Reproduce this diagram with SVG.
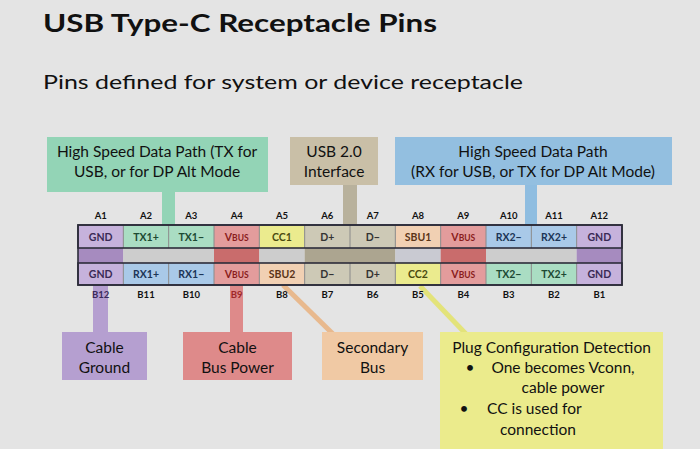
<svg xmlns="http://www.w3.org/2000/svg" width="700" height="449" viewBox="0 0 700 449">
<style>
text{font-family:Lato,"Liberation Sans",sans-serif;fill:#111}
.title{font-size:24px;font-weight:bold}
.sub{font-size:18.5px}
.box{font-size:15.5px;text-anchor:middle}
.pl{font-size:9.5px;font-weight:bold;text-anchor:middle}
.cell{font-size:10.5px;font-weight:bold;text-anchor:middle}
.sep{stroke:#8a8a8a;stroke-width:1}
.row{fill:none;stroke:#2c2c3a;stroke-width:1.6}
</style>
<rect width="700" height="449" fill="#e4e4e4"/>
<text class="title" x="43" y="32" textLength="394" lengthAdjust="spacingAndGlyphs">USB Type-C Receptacle Pins</text>
<text class="sub" x="43" y="89" textLength="480" lengthAdjust="spacingAndGlyphs">Pins defined for system or device receptacle</text>

<g id="connectors">
  <rect x="162" y="192" width="13" height="33" fill="#93d4b6"/>
  <rect x="343" y="185" width="14" height="40" fill="#b8b19c"/>
  <rect x="525" y="185" width="12" height="40" fill="#8fbde0"/>
  <rect x="93" y="285" width="15" height="47" fill="#b59fd0"/>
  <rect x="230" y="285" width="13" height="47" fill="#de8a8a"/>
  <line x1="283" y1="285" x2="333" y2="334" stroke="#e8b98e" stroke-width="5"/>
  <line x1="420" y1="286" x2="466" y2="334" stroke="#e3e37a" stroke-width="5"/>
</g>

<g id="box-hs-tx">
  <rect x="47" y="137" width="221" height="55" fill="#93d4b6"/>
  <text class="box" x="157" y="157">High Speed Data Path (TX for</text>
  <text class="box" x="157" y="177">USB, or for DP Alt Mode</text>
</g>
<g id="box-usb2">
  <rect x="290" y="137" width="88" height="48" fill="#c9bfa7"/>
  <text class="box" x="334" y="157">USB 2.0</text>
  <text class="box" x="334" y="177">Interface</text>
</g>
<g id="box-hs-rx">
  <rect x="395" y="137" width="277" height="48" fill="#93bfe0"/>
  <text class="box" x="533" y="157">High Speed Data Path</text>
  <text class="box" x="533" y="177">(RX for USB, or TX for DP Alt Mode)</text>
</g>

<g id="pin-table">
  <rect x="78" y="248" width="45.33" height="15" fill="#a68bbf"/>
  <rect x="123.33" y="248" width="90.67" height="15" fill="#cdcdcd"/>
  <rect x="214" y="248" width="45.33" height="15" fill="#c96c6c"/>
  <rect x="259.33" y="248" width="45.33" height="15" fill="#cdcdcd"/>
  <rect x="304.67" y="248" width="90.67" height="15" fill="#aca590"/>
  <rect x="395.33" y="248" width="45.33" height="15" fill="#c9cad2"/>
  <rect x="440.67" y="248" width="45.33" height="15" fill="#c96c6c"/>
  <rect x="486" y="248" width="90.67" height="15" fill="#cdcdcd"/>
  <rect x="576.67" y="248" width="45.33" height="15" fill="#a68bbf"/>
  <rect x="78" y="225" width="45.33" height="23" fill="#c6b2dc"/>
  <rect x="123.33" y="225" width="45.33" height="23" fill="#aaddc3"/>
  <rect x="168.67" y="225" width="45.33" height="23" fill="#aaddc3"/>
  <rect x="214" y="225" width="45.33" height="23" fill="#e39c9c"/>
  <rect x="259.33" y="225" width="45.33" height="23" fill="#ebeb8e"/>
  <rect x="304.67" y="225" width="45.33" height="23" fill="#cdc9b6"/>
  <rect x="350" y="225" width="45.33" height="23" fill="#cdc9b6"/>
  <rect x="395.33" y="225" width="45.33" height="23" fill="#f1d0b3"/>
  <rect x="440.67" y="225" width="45.33" height="23" fill="#e39c9c"/>
  <rect x="486" y="225" width="45.33" height="23" fill="#a9c9e8"/>
  <rect x="531.33" y="225" width="45.33" height="23" fill="#a9c9e8"/>
  <rect x="576.67" y="225" width="45.33" height="23" fill="#c6b2dc"/>
  <rect x="78" y="263" width="45.33" height="22" fill="#c6b2dc"/>
  <rect x="123.33" y="263" width="45.33" height="22" fill="#a9c9e8"/>
  <rect x="168.67" y="263" width="45.33" height="22" fill="#a9c9e8"/>
  <rect x="214" y="263" width="45.33" height="22" fill="#e39c9c"/>
  <rect x="259.33" y="263" width="45.33" height="22" fill="#f1d0b3"/>
  <rect x="304.67" y="263" width="45.33" height="22" fill="#cdc9b6"/>
  <rect x="350" y="263" width="45.33" height="22" fill="#cdc9b6"/>
  <rect x="395.33" y="263" width="45.33" height="22" fill="#ebeb8e"/>
  <rect x="440.67" y="263" width="45.33" height="22" fill="#e39c9c"/>
  <rect x="486" y="263" width="45.33" height="22" fill="#aaddc3"/>
  <rect x="531.33" y="263" width="45.33" height="22" fill="#aaddc3"/>
  <rect x="576.67" y="263" width="45.33" height="22" fill="#c6b2dc"/>
  <path class="sep" d="M123.33 225V248M168.67 225V248M214 225V248M259.33 225V248M304.67 225V248M350 225V248M395.33 225V248M440.67 225V248M486 225V248M531.33 225V248M576.67 225V248"/>
  <path class="sep" d="M123.33 263V285M168.67 263V285M214 263V285M259.33 263V285M304.67 263V285M350 263V285M395.33 263V285M440.67 263V285M486 263V285M531.33 263V285M576.67 263V285"/>
  <rect class="row" x="78" y="225" width="544" height="23"/>
  <rect class="row" x="78" y="263" width="544" height="22"/>
  <rect class="row" x="78" y="225" width="544" height="60"/>
  <text class="pl" x="100.7" y="219">A1</text>
  <text class="pl" x="146" y="219">A2</text>
  <text class="pl" x="191.3" y="219">A3</text>
  <text class="pl" x="236.7" y="219">A4</text>
  <text class="pl" x="282" y="219">A5</text>
  <text class="pl" x="327.3" y="219">A6</text>
  <text class="pl" x="372.7" y="219">A7</text>
  <text class="pl" x="418" y="219">A8</text>
  <text class="pl" x="463.3" y="219">A9</text>
  <text class="pl" x="508.7" y="219">A10</text>
  <text class="pl" x="554" y="219">A11</text>
  <text class="pl" x="599.3" y="219">A12</text>
  <text class="pl" x="100.7" y="298" style="fill:#3a2a5a">B12</text>
  <text class="pl" x="146" y="298">B11</text>
  <text class="pl" x="191.3" y="298">B10</text>
  <text class="pl" x="236.7" y="298" style="fill:#a02828">B9</text>
  <text class="pl" x="282" y="298">B8</text>
  <text class="pl" x="327.3" y="298">B7</text>
  <text class="pl" x="372.7" y="298">B6</text>
  <text class="pl" x="418" y="298">B5</text>
  <text class="pl" x="463.3" y="298">B4</text>
  <text class="pl" x="508.7" y="298">B3</text>
  <text class="pl" x="554" y="298">B2</text>
  <text class="pl" x="599.3" y="298">B1</text>
  <text class="cell" x="100.7" y="241" style="fill:#3a2a55">GND</text>
  <text class="cell" x="146" y="241" style="fill:#1d4a33">TX1+</text>
  <text class="cell" x="191.3" y="241" style="fill:#1d4a33">TX1−</text>
  <text class="cell" x="236.7" y="241" style="fill:#8a1c1c">V<tspan font-size="8.5">BUS</tspan></text>
  <text class="cell" x="282" y="241" style="fill:#4a4a10">CC1</text>
  <text class="cell" x="327.3" y="241" style="fill:#333">D+</text>
  <text class="cell" x="372.7" y="241" style="fill:#333">D−</text>
  <text class="cell" x="418" y="241" style="fill:#5a3418">SBU1</text>
  <text class="cell" x="463.3" y="241" style="fill:#8a1c1c">V<tspan font-size="8.5">BUS</tspan></text>
  <text class="cell" x="508.7" y="241" style="fill:#1c3556">RX2−</text>
  <text class="cell" x="554" y="241" style="fill:#1c3556">RX2+</text>
  <text class="cell" x="599.3" y="241" style="fill:#3a2a55">GND</text>
  <text class="cell" x="100.7" y="278" style="fill:#3a2a55">GND</text>
  <text class="cell" x="146" y="278" style="fill:#1c3556">RX1+</text>
  <text class="cell" x="191.3" y="278" style="fill:#1c3556">RX1−</text>
  <text class="cell" x="236.7" y="278" style="fill:#8a1c1c">V<tspan font-size="8.5">BUS</tspan></text>
  <text class="cell" x="282" y="278" style="fill:#5a3418">SBU2</text>
  <text class="cell" x="327.3" y="278" style="fill:#333">D−</text>
  <text class="cell" x="372.7" y="278" style="fill:#333">D+</text>
  <text class="cell" x="418" y="278" style="fill:#4a4a10">CC2</text>
  <text class="cell" x="463.3" y="278" style="fill:#8a1c1c">V<tspan font-size="8.5">BUS</tspan></text>
  <text class="cell" x="508.7" y="278" style="fill:#1d4a33">TX2−</text>
  <text class="cell" x="554" y="278" style="fill:#1d4a33">TX2+</text>
  <text class="cell" x="599.3" y="278" style="fill:#3a2a55">GND</text>
</g>

<g id="box-ground">
  <rect x="62" y="332" width="85" height="48" fill="#b59fd0"/>
  <text class="box" x="104.5" y="353">Cable</text>
  <text class="box" x="104.5" y="373">Ground</text>
</g>
<g id="box-power">
  <rect x="183" y="332" width="109" height="48" fill="#de8a8a"/>
  <text class="box" x="237.5" y="353">Cable</text>
  <text class="box" x="237.5" y="373">Bus Power</text>
</g>
<g id="box-secondary">
  <rect x="322" y="332" width="101" height="48" fill="#f0c9a4"/>
  <text class="box" x="372.5" y="353">Secondary</text>
  <text class="box" x="372.5" y="373">Bus</text>
</g>
<g id="box-plug">
  <rect x="440" y="332" width="223" height="117" fill="#ebeb8c"/>
  <text class="box" x="551.5" y="353">Plug Configuration Detection</text>
  <text class="box" x="470" y="373">•</text>
  <text class="box" x="563" y="373">One becomes Vconn,</text>
  <text class="box" x="563" y="393">cable power</text>
  <text class="box" x="464" y="414">•</text>
  <text class="box" x="487" y="414" style="text-anchor:start">CC is used for</text>
  <text class="box" x="500" y="435" style="text-anchor:start">connection</text>
</g>
</svg>
